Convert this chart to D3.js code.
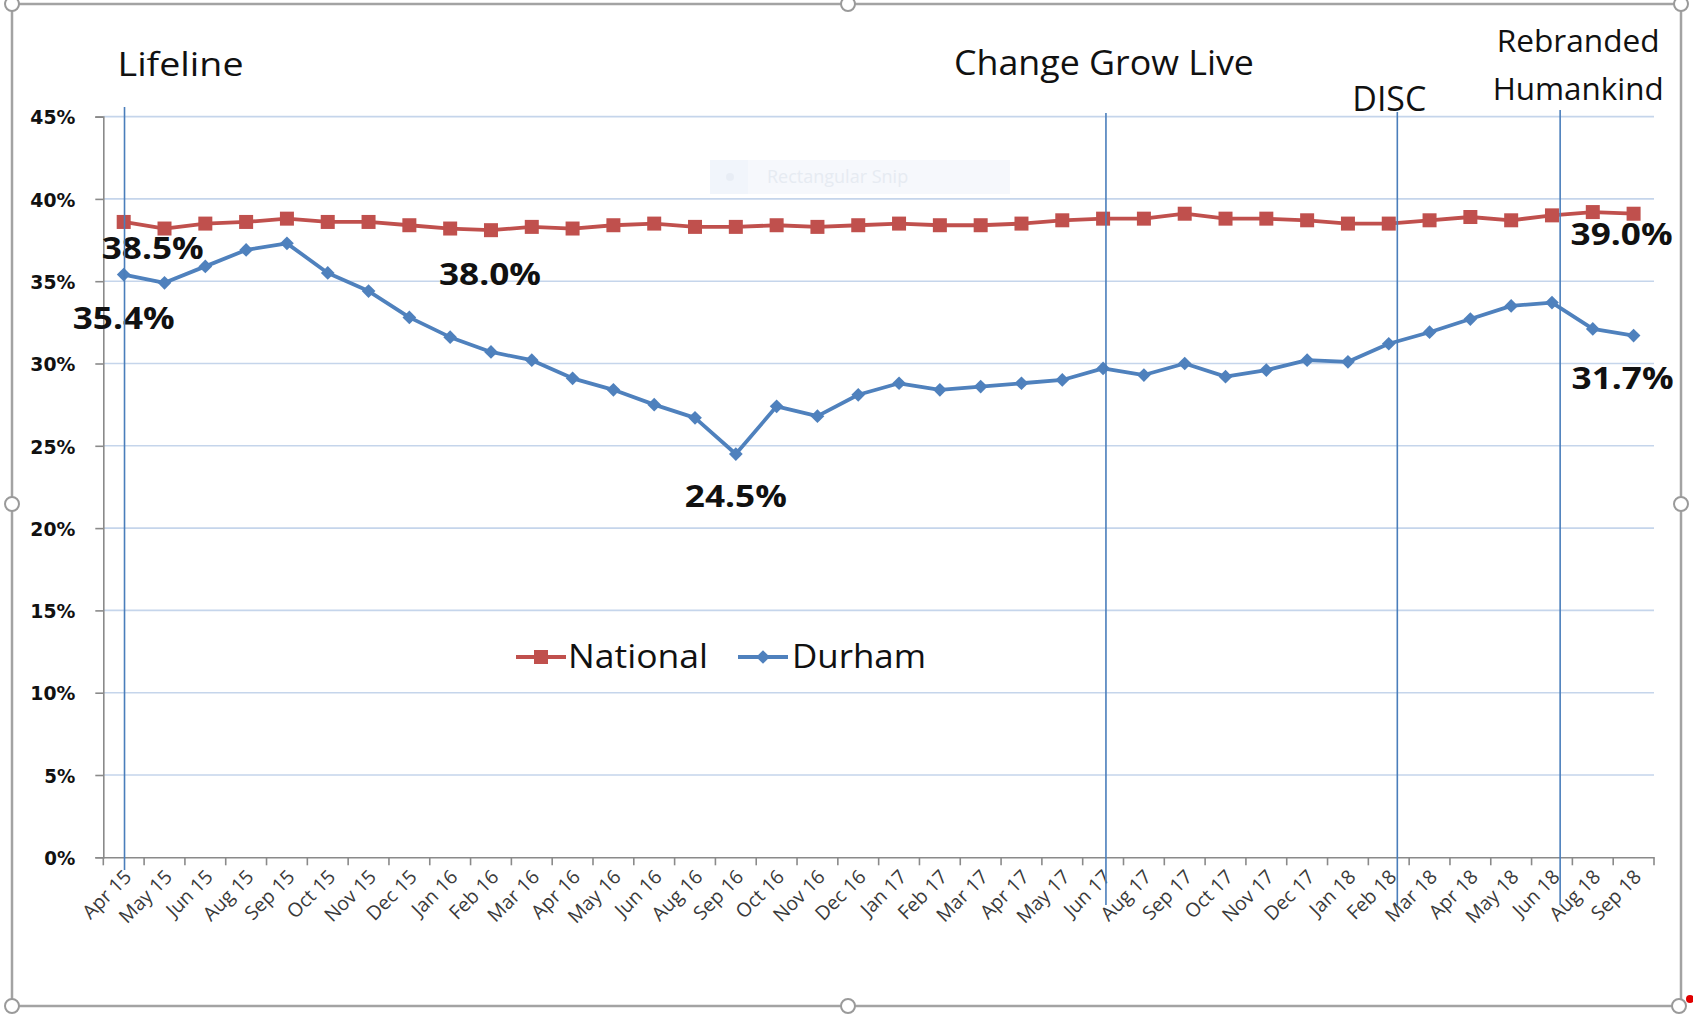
<!DOCTYPE html>
<html>
<head>
<meta charset="utf-8">
<script src="https://cdn.jsdelivr.net/npm/d3@7"></script>
<style>
  html, body { margin: 0; padding: 0; background: #ffffff; }
  svg { display: block; }
</style>
</head>
<body>
<svg id="chart" width="1693" height="1015"></svg>
<script>
// ---------------- DATA ----------------
const categories = ["Apr 15","May 15","Jun 15","Aug 15","Sep 15","Oct 15","Nov 15","Dec 15",
  "Jan 16","Feb 16","Mar 16","Apr 16","May 16","Jun 16","Aug 16","Sep 16","Oct 16","Nov 16","Dec 16",
  "Jan 17","Feb 17","Mar 17","Apr 17","May 17","Jun 17","Aug 17","Sep 17","Oct 17","Nov 17","Dec 17",
  "Jan 18","Feb 18","Mar 18","Apr 18","May 18","Jun 18","Aug 18","Sep 18"];

const national = [38.6,38.2,38.5,38.6,38.8,38.6,38.6,38.4,38.2,38.1,38.3,38.2,38.4,38.5,38.3,38.3,38.4,38.3,38.4,
  38.5,38.4,38.4,38.5,38.7,38.8,38.8,39.1,38.8,38.8,38.7,38.5,38.5,38.7,38.9,38.7,39.0,39.2,39.1];

const durham = [35.4,34.9,35.9,36.9,37.3,35.5,34.4,32.8,31.6,30.7,30.2,29.1,28.4,27.5,26.7,24.5,27.4,26.8,28.1,
  28.8,28.4,28.6,28.8,29.0,29.7,29.3,30.0,29.2,29.6,30.2,30.1,31.2,31.9,32.7,33.5,33.7,32.1,31.7];

const yTicks = [0,5,10,15,20,25,30,35,40,45];
const seriesNames = ["National","Durham"];

const dataLabels = [
  {series:"National", cat:"Apr 15", text:"38.5%"},
  {series:"Durham",   cat:"Apr 15", text:"35.4%"},
  {series:"National", cat:"Feb 16", text:"38.0%"},
  {series:"Durham",   cat:"Sep 16", text:"24.5%"},
  {series:"National", cat:"Sep 18", text:"39.0%"},
  {series:"Durham",   cat:"Sep 18", text:"31.7%"}
];

const events = [
  {lines:["Lifeline"],              cat:"Apr 15", offset:0.02},
  {lines:["Change Grow Live"],      cat:"Jun 17", offset:0.07},
  {lines:["DISC"],                  cat:"Feb 18", offset:0.21},
  {lines:["Rebranded","Humankind"], cat:"Jun 18", offset:0.2}
];

// ---------------- LAYOUT / STYLE ----------------
const W = 1693, H = 1015;
const plot = {left:103.3, right:1654, top:116.6, bottom:857.3};
const colors = {National:"#C0504D", Durham:"#4F81BD", grid:"#c5d5eb", axis:"#8a8a8a", event:"#4a7ebb"};

const svg = d3.select("#chart");

// frame (chart object border with handles)
const frame = {l:12, r:1681, t:4, b:1006};
svg.append("rect").attr("x",0).attr("y",0).attr("width",W).attr("height",H).attr("fill","#fff");
svg.append("rect").attr("x",frame.l).attr("y",frame.t).attr("width",frame.r-frame.l).attr("height",frame.b-frame.t)
  .attr("fill","none").attr("stroke","#a3a3a3").attr("stroke-width",2.5);

// faint snip watermark
const snip = svg.append("g");
snip.append("rect").attr("x",710).attr("y",160).attr("width",300).attr("height",34).attr("fill","#f6f8fc");
snip.append("rect").attr("x",710).attr("y",160).attr("width",38).attr("height",34).attr("fill","#f1f5fb");
snip.append("circle").attr("cx",730).attr("cy",177).attr("r",4).attr("fill","#e8edf5");
snip.append("text").attr("x",767).attr("y",183).attr("font-family","Open Sans, sans-serif")
  .attr("font-size",18).attr("fill","#e6ebf2").text("Rectangular Snip");

// ---------------- SCALES ----------------
const x = d3.scaleBand().domain(categories).range([plot.left, plot.right]).paddingInner(0).paddingOuter(0);
const xc = c => x(c) + x.bandwidth()/2;
const y = d3.scaleLinear().domain([0,45]).range([plot.bottom, plot.top]);

// gridlines
svg.append("g").selectAll("line").data(yTicks.filter(v=>v>0)).join("line")
  .attr("x1",plot.left).attr("x2",plot.right)
  .attr("y1",d=>y(d)).attr("y2",d=>y(d))
  .attr("stroke",colors.grid).attr("stroke-width",1.6);

// y axis
const yAxis = d3.axisLeft(y).tickValues(yTicks).tickSize(8).tickPadding(20).tickFormat(d=>d+"%");
const gy = svg.append("g").attr("transform",`translate(${plot.left},0)`).call(yAxis);
gy.select(".domain").attr("stroke",colors.axis).attr("stroke-width",1.6);
gy.selectAll(".tick line").attr("stroke",colors.axis).attr("stroke-width",1.6);
gy.selectAll(".tick text").attr("font-family","DejaVu Sans, Verdana, sans-serif").attr("font-weight","bold")
  .attr("font-size",20).attr("fill","#111").attr("dy","0.36em")
  .attr("textLength",d=>d<10?31:45).attr("lengthAdjust","spacingAndGlyphs");

// x axis
const xAxis = d3.axisBottom(x).tickSize(0).tickSizeOuter(0);
const gx = svg.append("g").attr("transform",`translate(0,${plot.bottom})`).call(xAxis);
gx.select(".domain").attr("stroke",colors.axis).attr("stroke-width",1.6);
gx.selectAll(".tick text")
  .attr("font-family","Open Sans, sans-serif").attr("font-size",19.5).attr("fill","#3a3a3a")
  .attr("text-anchor","end").attr("dy",null).attr("y",null)
  .attr("transform","translate(4,16) rotate(-45)").attr("dy","0.35em");
// tick marks at band boundaries
const boundaries = categories.map(c=>x(c)).concat([plot.right]);
svg.append("g").selectAll("line").data(boundaries).join("line")
  .attr("x1",d=>d).attr("x2",d=>d).attr("y1",plot.bottom).attr("y2",plot.bottom+8)
  .attr("stroke",colors.axis).attr("stroke-width",1.6);

// ---------------- SERIES ----------------
const line = d3.line().x((d,i)=>xc(categories[i])).y(d=>y(d));
const seriesData = {National: national, Durham: durham};

svg.append("path").datum(national).attr("d",line).attr("fill","none")
  .attr("stroke",colors.National).attr("stroke-width",3.8).attr("stroke-linejoin","round");
svg.append("g").selectAll("rect").data(national).join("rect")
  .attr("x",(d,i)=>xc(categories[i])-7).attr("y",d=>y(d)-7)
  .attr("width",14).attr("height",14).attr("fill",colors.National);

svg.append("path").datum(durham).attr("d",line).attr("fill","none")
  .attr("stroke",colors.Durham).attr("stroke-width",3.8).attr("stroke-linejoin","round");
const diamond = d3.symbol().type(d3.symbolDiamond2 || d3.symbolDiamond).size(120);
svg.append("g").selectAll("path").data(durham).join("path")
  .attr("d",diamond)
  .attr("transform",(d,i)=>`translate(${xc(categories[i])},${y(d)})`)
  .attr("fill",colors.Durham);

// ---------------- DATA LABELS ----------------
const labelOffsets = {
  "National|Apr 15":[29,37], "Durham|Apr 15":[0,54], "National|Feb 16":[-1,55],
  "Durham|Sep 16":[0,53], "National|Sep 18":[-12,31], "Durham|Sep 18":[-11,53]
};
svg.append("g").selectAll("text").data(dataLabels).join("text")
  .attr("x",d=>xc(d.cat)+labelOffsets[d.series+"|"+d.cat][0])
  .attr("y",d=>y(seriesData[d.series][categories.indexOf(d.cat)])+labelOffsets[d.series+"|"+d.cat][1])
  .attr("text-anchor","middle").attr("font-family","Open Sans, sans-serif").attr("font-weight","bold")
  .attr("font-size",31).attr("fill","#111").attr("textLength",102).attr("lengthAdjust","spacingAndGlyphs")
  .text(d=>d.text);

// ---------------- LEGEND ----------------
const legend = svg.append("g");
const legendItems = [
  {name:"National", lx:516, tx:568, tw:140},
  {name:"Durham",   lx:738, tx:792, tw:134}
];
legendItems.forEach(it=>{
  const g = legend.append("g");
  g.append("line").attr("x1",it.lx).attr("x2",it.lx+50).attr("y1",657).attr("y2",657)
    .attr("stroke",colors[it.name]).attr("stroke-width",3.8);
  if (it.name==="National") {
    g.append("rect").attr("x",it.lx+25-7).attr("y",657-7).attr("width",14).attr("height",14).attr("fill",colors.National);
  } else {
    g.append("path").attr("d",diamond).attr("transform",`translate(${it.lx+25},657)`).attr("fill",colors.Durham);
  }
  g.append("text").attr("x",it.tx).attr("y",668).attr("font-family","Open Sans, sans-serif")
    .attr("font-size",32).attr("fill","#111").attr("textLength",it.tw).attr("lengthAdjust","spacingAndGlyphs")
    .text(it.name);
});

// ---------------- EVENTS (vertical markers) ----------------
const eventStyle = [
  {top:107, bottom:870, tx:-7,  anchor:"start",  base:[76],      size:33, tw:[126]},
  {top:113, bottom:905, tx:-2,  anchor:"middle", base:[75],      size:34, tw:[300]},
  {top:112, bottom:905, tx:-8,  anchor:"middle", base:[111],     size:34, tw:[74]},
  {top:110, bottom:905, tx:18,  anchor:"middle", base:[52,100],  size:31, tw:[163,171]}
];
events.forEach((ev,k)=>{
  const st = eventStyle[k];
  const ex = xc(ev.cat) + ev.offset * x.bandwidth();
  svg.append("line").attr("x1",ex).attr("x2",ex).attr("y1",st.top).attr("y2",st.bottom)
    .attr("stroke",colors.event).attr("stroke-width",1.6);
  ev.lines.forEach((t,j)=>{
    svg.append("text").attr("x",ex+st.tx).attr("y",st.base[j]).attr("text-anchor",st.anchor)
      .attr("font-family","Open Sans, sans-serif").attr("font-size",st.size).attr("fill","#111")
      .attr("textLength",st.tw[j]).attr("lengthAdjust","spacingAndGlyphs").text(t);
  });
});

// ---------------- FRAME HANDLES ----------------
const handles = [[frame.l,frame.t],[848,frame.t],[frame.r,frame.t],[frame.l,504],[frame.r,504],
  [frame.l,frame.b],[848,frame.b],[frame.r-2,frame.b]];
svg.append("circle").attr("cx",1690).attr("cy",999).attr("r",4).attr("fill","#e00000");
svg.append("g").selectAll("circle").data(handles).join("circle")
  .attr("cx",d=>d[0]).attr("cy",d=>d[1]).attr("r",7)
  .attr("fill","#fff").attr("stroke","#9a9a9a").attr("stroke-width",2);
</script>
</body>
</html>
